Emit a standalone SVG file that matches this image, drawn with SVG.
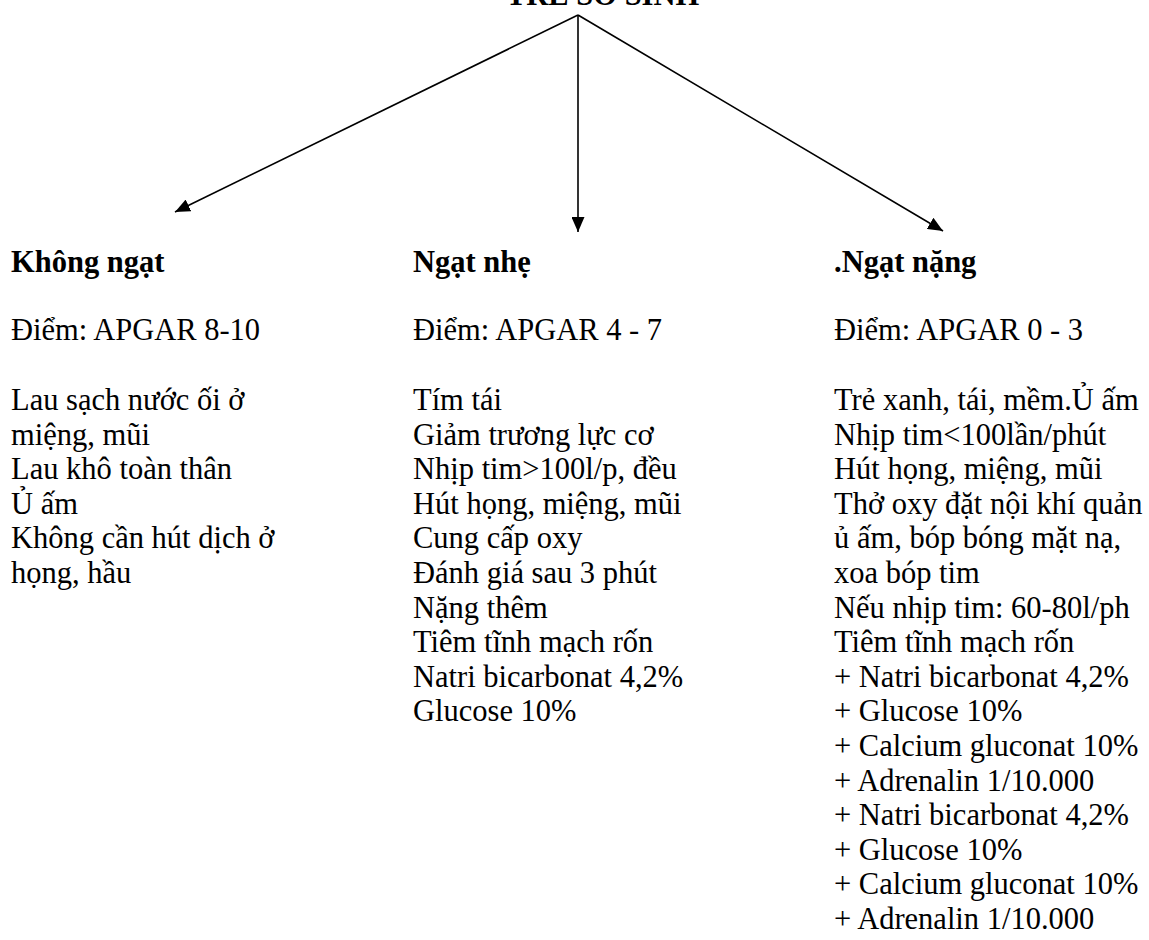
<svg xmlns="http://www.w3.org/2000/svg" width="1149" height="940" viewBox="0 0 1149 940">
<style>
text{font-family:"Liberation Serif","Times New Roman",serif;font-size:30.5px;fill:#000}
.b{font-weight:bold}
.conn{stroke:#000;stroke-width:1.6;fill:none}
</style>
<defs>
<marker id="ah" markerUnits="userSpaceOnUse" markerWidth="16" markerHeight="13" refX="15" refY="6.5" orient="auto">
<path d="M0,0 L15,6.5 L0,13 z" fill="#000"/>
</marker>
</defs>
<rect width="1149" height="940" fill="#fff"/>
<g id="connectors">
<line class="conn" x1="578" y1="15" x2="175" y2="212" marker-end="url(#ah)"/>
<line class="conn" x1="578" y1="15" x2="578" y2="232" marker-end="url(#ah)"/>
<line class="conn" x1="578" y1="15" x2="943" y2="231" marker-end="url(#ah)"/>
</g>
<g id="root">
<text class="b" x="506" y="5">TRẺ SƠ SINH</text>
</g>
<g id="khong-ngat">
<text class="b" x="11" y="272">Không ngạt</text>
<text x="11" y="340">Điểm: APGAR 8-10</text>
<text x="11" y="410">Lau sạch nước ối ở<tspan x="11" dy="34.6">miệng, mũi</tspan><tspan x="11" dy="34.6">Lau khô toàn thân</tspan><tspan x="11" dy="34.6">Ủ ấm</tspan><tspan x="11" dy="34.6">Không cần hút dịch ở</tspan><tspan x="11" dy="34.6">họng, hầu</tspan></text>
</g>
<g id="ngat-nhe">
<text class="b" x="413" y="272">Ngạt nhẹ</text>
<text x="413" y="340">Điểm: APGAR 4 - 7</text>
<text x="413" y="410">Tím tái<tspan x="413" dy="34.6">Giảm trương lực cơ</tspan><tspan x="413" dy="34.6">Nhịp tim&gt;100l/p, đều</tspan><tspan x="413" dy="34.6">Hút họng, miệng, mũi</tspan><tspan x="413" dy="34.6">Cung cấp oxy</tspan><tspan x="413" dy="34.6">Đánh giá sau 3 phút</tspan><tspan x="413" dy="34.6">Nặng thêm</tspan><tspan x="413" dy="34.6">Tiêm tĩnh mạch rốn</tspan><tspan x="413" dy="34.6">Natri bicarbonat 4,2%</tspan><tspan x="413" dy="34.6">Glucose 10%</tspan></text>
</g>
<g id="ngat-nang">
<text class="b" x="834" y="272">.Ngạt nặng</text>
<text x="834" y="340">Điểm: APGAR 0 - 3</text>
<text x="834" y="410">Trẻ xanh, tái, mềm.Ủ ấm<tspan x="834" dy="34.6">Nhịp tim&lt;100lần/phút</tspan><tspan x="834" dy="34.6">Hút họng, miệng, mũi</tspan><tspan x="834" dy="34.6">Thở oxy đặt nội khí quản</tspan><tspan x="834" dy="34.6">ủ ấm, bóp bóng mặt nạ,</tspan><tspan x="834" dy="34.6">xoa bóp tim</tspan><tspan x="834" dy="34.6">Nếu nhịp tim: 60-80l/ph</tspan><tspan x="834" dy="34.6">Tiêm tĩnh mạch rốn</tspan><tspan x="834" dy="34.6">+ Natri bicarbonat 4,2%</tspan><tspan x="834" dy="34.6">+ Glucose 10%</tspan><tspan x="834" dy="34.6">+ Calcium gluconat 10%</tspan><tspan x="834" dy="34.6">+ Adrenalin 1/10.000</tspan><tspan x="834" dy="34.6">+ Natri bicarbonat 4,2%</tspan><tspan x="834" dy="34.6">+ Glucose 10%</tspan><tspan x="834" dy="34.6">+ Calcium gluconat 10%</tspan><tspan x="834" dy="34.6">+ Adrenalin 1/10.000</tspan></text>
</g>
</svg>
